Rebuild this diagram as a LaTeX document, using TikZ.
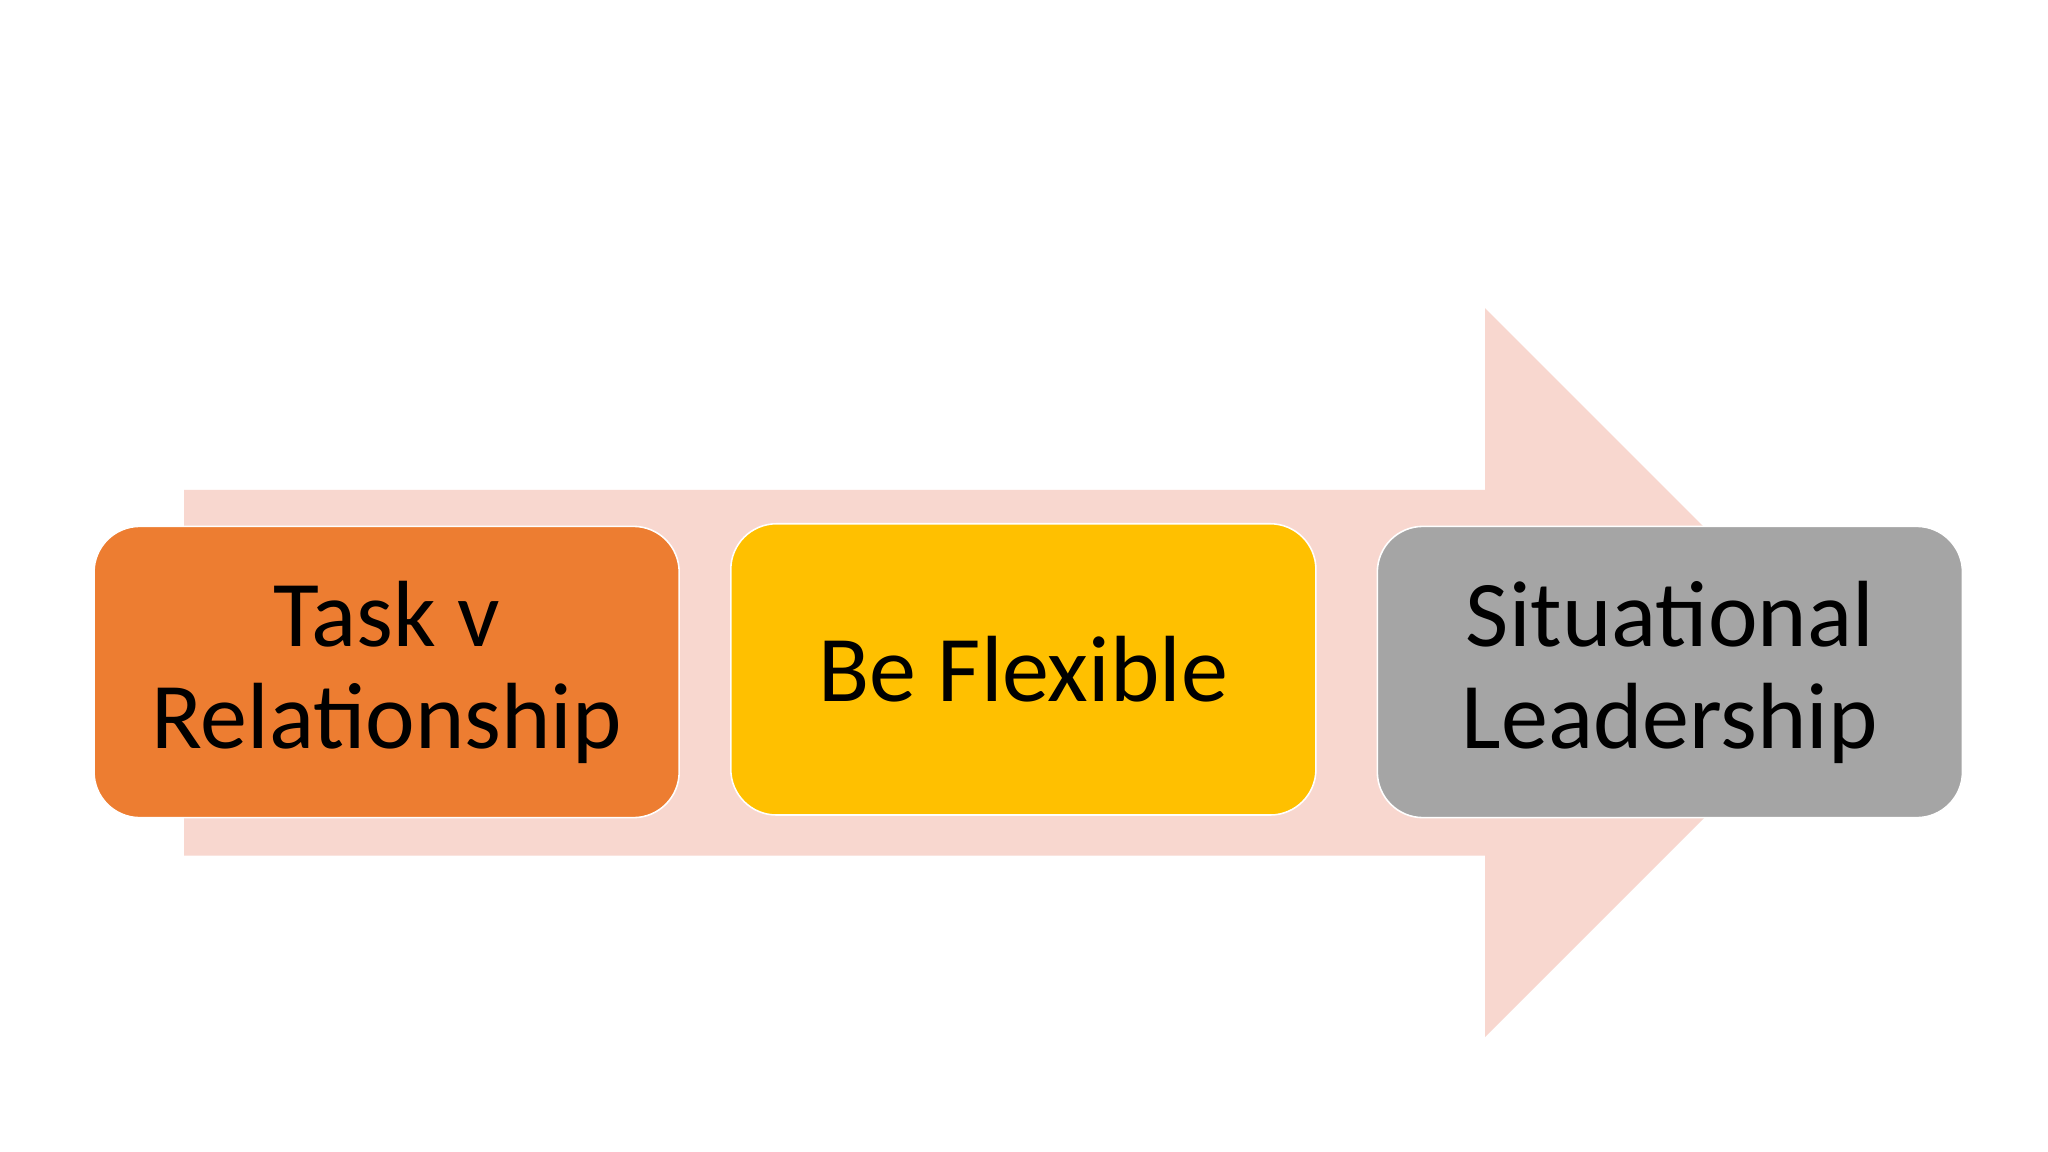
\documentclass[tikz,border=0pt]{standalone}
\usepackage{fontspec}
\setmainfont{Carlito}
\definecolor{arr}{HTML}{F8D7CF}
\definecolor{c1}{HTML}{ED7D31}
\definecolor{c2}{HTML}{FFC000}
\definecolor{c3}{HTML}{A5A5A5}
\tikzset{box/.style={draw=white,line width=1.2pt,rounded corners=35pt,minimum width=448pt,minimum height=223pt,align=center,font=\fontsize{72}{78}\selectfont,text=black,inner sep=0pt}}
\begin{document}
\begin{tikzpicture}[x=1pt,y=-1pt]
\useasboundingbox[fill=white] (0,0) rectangle (1568,882);
\fill[arr] (141,375) -- (1137,375) -- (1137,236) -- (1416,515) -- (1137,794) -- (1137,655) -- (141,655) -- cycle;
\node[box,fill=c1] (a) at (296,514.5) {Task v\\Relationship};
\node[box,fill=c2] (b) at (783.5,512.5) {Be Flexible};
\node[box,fill=c3] (c) at (1278.5,514.5) {Situational\\Leadership};
\end{tikzpicture}
\end{document}
